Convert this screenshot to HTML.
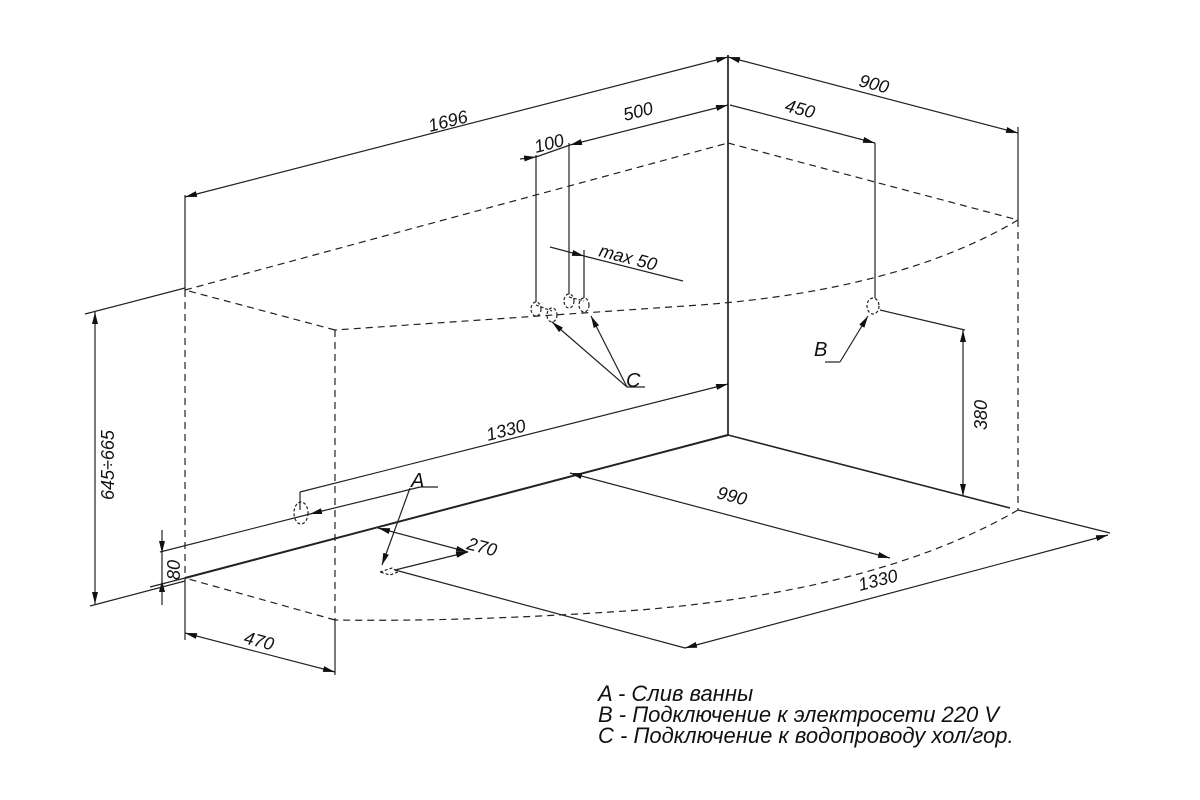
<!DOCTYPE html>
<html><head><meta charset="utf-8"><style>
html,body{margin:0;padding:0;background:#fff;}
svg{display:block;}
text{font-family:"Liberation Sans",sans-serif;font-style:italic;fill:#111;}
</style></head><body>
<svg width="1200" height="800" viewBox="0 0 1200 800" xmlns="http://www.w3.org/2000/svg">
<defs>
<marker id="a" viewBox="0 0 12 6" refX="12" refY="3" markerWidth="12" markerHeight="6" orient="auto-start-reverse" markerUnits="userSpaceOnUse"><path d="M0,0 L12,3 L0,6 Z" fill="#111"/></marker>
</defs>
<g stroke="#222" stroke-width="1.2" fill="none">
<g stroke-dasharray="7,5">
<line x1="185" y1="290" x2="728" y2="143"/>
<line x1="728" y1="143" x2="1018" y2="220"/>
<path d="M1018,220 Q900,290 700,305 Q480,320 335,330"/>
<line x1="335" y1="330" x2="185" y2="290"/>
<line x1="185" y1="290" x2="185" y2="578"/>
<line x1="335" y1="330" x2="335" y2="620"/>
<line x1="1018" y1="220" x2="1018" y2="510"/>
<path d="M1018,510 Q880,590 640,610 Q470,622 335,620"/>
<line x1="335" y1="620" x2="185" y2="578"/>
</g>
<g stroke-dasharray="3,2">
<path d="M380,572 L392,568 L398,572 L390,575 Z"/>
<ellipse cx="536" cy="309" rx="5" ry="7"/>
<ellipse cx="552" cy="315" rx="5" ry="7"/>
<ellipse cx="569" cy="301" rx="5" ry="7"/>
<ellipse cx="584" cy="305" rx="5" ry="7"/>
<line x1="536" y1="305" x2="552" y2="311"/>
<line x1="569" y1="297" x2="584" y2="301"/>
<ellipse cx="873" cy="306" rx="6" ry="8"/>
<ellipse cx="301" cy="513" rx="7" ry="11"/>
</g>
<line x1="185" y1="578" x2="728" y2="435" stroke-width="2"/>
<line x1="728" y1="435" x2="1010" y2="508" stroke-width="1.6"/>
<line x1="728" y1="55" x2="728" y2="435" stroke-width="1.7"/>
<line x1="185" y1="195" x2="185" y2="290"/>
<line x1="1018" y1="127" x2="1018" y2="220"/>
<line x1="335" y1="620" x2="335" y2="675"/>
<line x1="185" y1="578" x2="185" y2="640"/>
<line x1="185" y1="197" x2="728" y2="57" marker-start="url(#a)" marker-end="url(#a)"/>
<line x1="728" y1="57" x2="1018" y2="133" marker-start="url(#a)" marker-end="url(#a)"/>
<line x1="570" y1="145" x2="728" y2="105" marker-start="url(#a)" marker-end="url(#a)"/>
<line x1="520" y1="159" x2="536" y2="157" marker-end="url(#a)"/>
<line x1="536" y1="157" x2="570" y2="145"/>
<line x1="536" y1="155" x2="536" y2="302"/>
<line x1="569" y1="143" x2="569" y2="294"/>
<line x1="730" y1="105" x2="875" y2="143" marker-end="url(#a)"/>
<line x1="875" y1="143" x2="875" y2="298"/>
<line x1="550" y1="247" x2="584" y2="256" marker-end="url(#a)"/>
<line x1="584" y1="256" x2="683" y2="281"/>
<line x1="584" y1="250" x2="584" y2="298"/>
<line x1="627" y1="387" x2="552" y2="322" marker-end="url(#a)"/>
<line x1="627" y1="387" x2="591" y2="316" marker-end="url(#a)"/>
<line x1="627" y1="387" x2="645" y2="387"/>
<line x1="825" y1="362" x2="840" y2="362"/>
<line x1="840" y1="362" x2="868" y2="316" marker-end="url(#a)"/>
<line x1="880" y1="310" x2="965" y2="330"/>
<line x1="963" y1="330" x2="963" y2="496" marker-start="url(#a)" marker-end="url(#a)"/>
<line x1="300" y1="492" x2="728" y2="384" marker-end="url(#a)"/>
<line x1="300" y1="492" x2="300" y2="510"/>
<line x1="160" y1="552" x2="310" y2="514"/>
<line x1="310" y1="514" x2="420" y2="487" marker-start="url(#a)"/>
<line x1="420" y1="487" x2="438" y2="487"/>
<line x1="410" y1="488" x2="382" y2="565" marker-end="url(#a)"/>
<line x1="378" y1="528" x2="468" y2="552" marker-start="url(#a)" marker-end="url(#a)"/>
<line x1="395" y1="570" x2="468" y2="552" marker-end="url(#a)"/>
<line x1="395" y1="570" x2="685" y2="648"/>
<line x1="570" y1="473" x2="890" y2="558" marker-start="url(#a)" marker-end="url(#a)"/>
<line x1="685" y1="648" x2="1108" y2="535" marker-start="url(#a)" marker-end="url(#a)"/>
<line x1="1018" y1="510" x2="1110" y2="533"/>
<line x1="185" y1="633" x2="335" y2="672" marker-start="url(#a)" marker-end="url(#a)"/>
<line x1="162" y1="530" x2="162" y2="553" marker-end="url(#a)"/>
<line x1="162" y1="605" x2="162" y2="580" marker-end="url(#a)"/>
<line x1="162" y1="553" x2="162" y2="580"/>
<line x1="150" y1="587" x2="185" y2="578"/>
<line x1="95" y1="312" x2="95" y2="604" marker-start="url(#a)" marker-end="url(#a)"/>
<line x1="85" y1="314" x2="185" y2="288"/>
<line x1="90" y1="606" x2="185" y2="581"/>
</g>
<g font-size="18">
<text transform="translate(430,132) rotate(-14.5)">1696</text>
<text transform="translate(858,86) rotate(14.5)">900</text>
<text transform="translate(625,121) rotate(-14.5)">500</text>
<text transform="translate(536,153) rotate(-14.5)">100</text>
<text transform="translate(784,111) rotate(14.5)">450</text>
<text transform="translate(598,256) rotate(14.5)">max  50</text>
<text x="626" y="387" font-size="20">C</text>
<text x="814" y="356" font-size="20">B</text>
<text x="411" y="487" font-size="20">A</text>
<text transform="translate(987,430) rotate(-90)">380</text>
<text transform="translate(488,441) rotate(-14.5)">1330</text>
<text transform="translate(716,498) rotate(14.5)">990</text>
<text transform="translate(860,591) rotate(-14.5)">1330</text>
<text transform="translate(466,549) rotate(14.5)">270</text>
<text transform="translate(243,643) rotate(14.5)">470</text>
<text transform="translate(180,580) rotate(-90)">80</text>
<text transform="translate(114,500) rotate(-90)">645÷665</text>
</g>
<g font-size="22">
<text x="598" y="701">A - Слив ванны</text>
<text x="598" y="722">B - Подключение к электросети 220 V</text>
<text x="598" y="743">C - Подключение к водопроводу хол/гор.</text>
</g>
</svg>
</body></html>
